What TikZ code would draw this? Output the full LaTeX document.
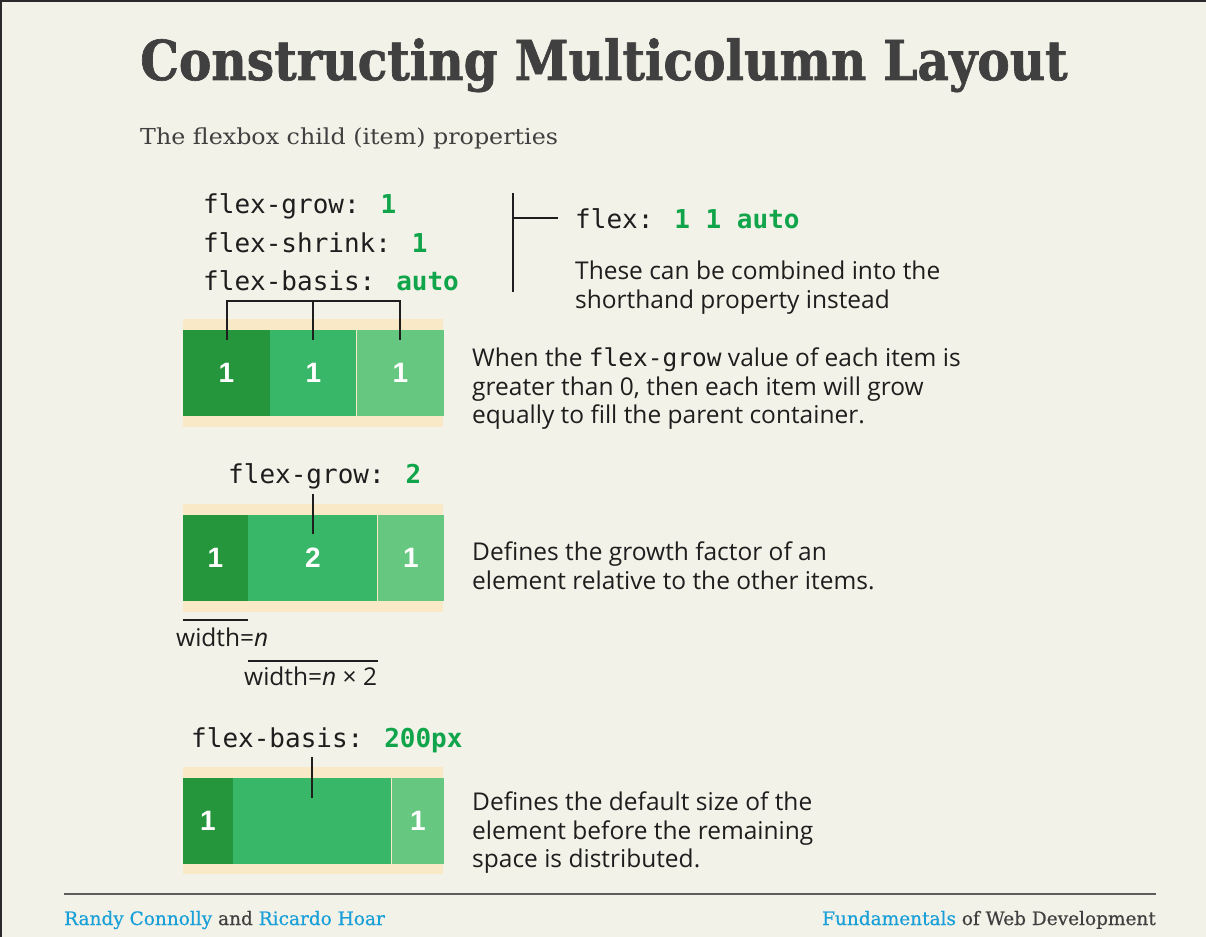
\documentclass[tikz,border=0pt]{standalone}
\usepackage{fontspec}
\setmainfont{Open Sans}
\newfontfamily\titlefont[FakeStretch=0.885,FakeBold=1.2]{DejaVu Serif}
\newfontfamily\slabfont[FakeStretch=1.08]{DejaVu Serif}
\newfontfamily\footfont[FakeBold=0.6]{DejaVu Serif}
\newfontfamily\codefont{DejaVu Sans Mono}
\newfontfamily\numfont{Liberation Sans}
\usetikzlibrary{positioning,calc}
\definecolor{paper}{HTML}{F3F2E8}
\definecolor{frame}{HTML}{2A2A2A}
\definecolor{cream}{HTML}{FAE9C7}
\definecolor{gdark}{HTML}{26963C}
\definecolor{gmid}{HTML}{37B767}
\definecolor{glight}{HTML}{65C780}
\definecolor{gtext}{HTML}{10A54A}
\definecolor{ink}{HTML}{1E1E1E}
\definecolor{titleink}{HTML}{404040}
\definecolor{author}{HTML}{1AA0D8}
\tikzset{
  seg/.style={inner sep=0pt, minimum height=86pt, text=white, font=\numfont\fontsize{28}{28}\selectfont\bfseries},
  code/.style={anchor=base west, inner sep=0pt, text=ink, font=\codefont\fontsize{26}{26}\selectfont},
  prose/.style={anchor=base west, inner sep=0pt, text=ink, align=left, font=\fontsize{24.5}{28.5}\selectfont},
  tick/.style={line width=2pt, ink},
  measure/.style={line width=1.6pt, ink},
}
\newcommand{\val}[1]{\textcolor{gtext}{\bfseries #1}}
\newcommand{\cd}[1]{{\codefont #1}}

\begin{document}
\begin{tikzpicture}[x=1pt, y=-1pt]
  \useasboundingbox (0,0) rectangle (1206,936);
  \fill[frame] (-5,-5) rectangle (1210,940);
  \fill[paper] (2,2) rectangle (1210,940);

  % Heading
  \node[anchor=base west, inner sep=0pt, text=titleink, font=\titlefont\fontsize{55}{55}\selectfont\bfseries] (title) at (140,80) {Constructing Multicolumn Layout};
  \node[anchor=base west, inner sep=0pt, text=titleink, font=\slabfont\fontsize{22}{22}\selectfont] (subtitle) at (140,145) {The flexbox child (item) properties};

  % The three properties and the shorthand
  \node[code] (grow) at (203,213) {flex-grow: \val{1}};
  \node[code] (shrink) at (203,252) {flex-shrink: \val{1}};
  \node[code] (basis) at (203,290) {flex-basis: \val{auto}};
  \node[code] (flex) at (575,228) {flex: \val{1 1 auto}};
  \node[prose] (combine) at (575,308) {These can be combined into the\\shorthand property instead};
  \coordinate (vtop) at (513,193);
  \coordinate (vbot) at (513,292);
  \draw[tick] (vtop) -- (vbot);
  \draw[tick] (vtop |- flex) -- ([xshift=-17pt]flex.west);

  % Equal grow
  \fill[cream] (183,319) rectangle (443,427);
  \node[seg, fill=gdark, minimum width=87pt] (a1) at (226.5,373) {1};
  \node[seg, fill=gmid, minimum width=86pt, right=0pt of a1] (a2) {1};
  \node[seg, fill=glight, minimum width=87pt, right=0pt of a2] (a3) {1};
  \coordinate (brk) at (313,301);
  \draw[tick] ([yshift=-10pt]a1.north) -- (a1.north |- brk) -- (a3.north |- brk) -- ([yshift=-10pt]a3.north);
  \draw[tick] ([yshift=-10pt]a2.north) -- (a2.north |- brk);
  \node[prose] (equal) at (472,423.5) {When the \cd{flex-grow} value of each item is\\greater than 0, then each item will grow\\equally to fill the parent container.};

  % Grow factor
  \node[code] (grow2) at (228,483) {flex-grow: \val{2}};
  \fill[cream] (183,504) rectangle (443,612);
  \node[seg, fill=gdark, minimum width=65pt] (b1) at (215.5,558) {1};
  \node[seg, fill=gmid, minimum width=129pt, right=0pt of b1] (b2) {2};
  \node[seg, fill=glight, minimum width=66pt, right=0pt of b2] (b3) {1};
  \draw[tick] ([yshift=21pt]b2.north) -- ([yshift=-19pt]b2.north);
  \node[prose] (factor) at (472,589) {Defines the growth factor of an\\element relative to the other items.};
  \draw[measure] ([yshift=-19pt]b1.south west) -- ([yshift=-19pt]b1.south east);
  \node[prose] (wone) at (176,646) {width=\textit{n}};
  \draw[measure] ([yshift=-60pt]b2.south west) -- ([yshift=-60pt]b2.south east);
  \node[prose] (wtwo) at (244,685) {width=\textit{n} × 2};

  % Basis
  \node[code] (basis2) at (191,747) {flex-basis: \val{200px}};
  \fill[cream] (183,767) rectangle (443,874);
  \node[seg, fill=gdark, minimum width=50pt] (c1) at (208,820.5) {1};
  \node[seg, fill=gmid, minimum width=158pt, right=0pt of c1] (c2) {};
  \node[seg, fill=glight, minimum width=52pt, right=0pt of c2] (c3) {1};
  \draw[tick] ([yshift=20pt]c2.north) -- ([yshift=-21pt]c2.north);
  \node[prose] (default) at (472,867.5) {Defines the default size of the\\element before the remaining\\space is distributed.};

  % Footer
  \coordinate (fl) at (64,894);
  \coordinate (fr) at (1156,894);
  \draw[line width=1.6pt, titleink!85] (fl) -- (fr);
  \node[anchor=base west, inner sep=0pt, text=titleink, font=\footfont\fontsize{18.5}{18.5}\selectfont] (authors) at (64,925) {\textcolor{author}{Randy Connolly} and \textcolor{author}{Ricardo Hoar}};
  \node[anchor=base east, inner sep=0pt, text=titleink, font=\footfont\fontsize{18.5}{18.5}\selectfont] (book) at (1156,925) {\textcolor{author}{Fundamentals} of Web Development};
\end{tikzpicture}
\end{document}
